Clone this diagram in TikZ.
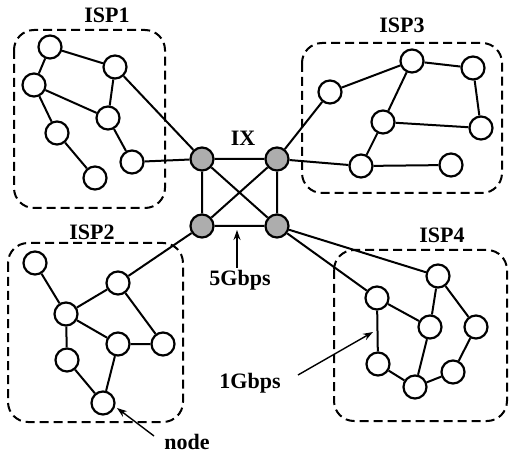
\documentclass[tikz,border=0pt]{standalone}
\usepackage{fontspec}
\setmainfont{Liberation Serif}
\usetikzlibrary{arrows.meta}
\tikzset{
  host/.style={circle, draw, line width=2.2pt, minimum size=23pt, inner sep=0pt, fill=white},
  ixhost/.style={host, fill=black!32},
  link/.style={line width=2pt},
  ispbox/.style={draw, line width=2pt, dash pattern=on 9pt off 5pt, rounded corners=20pt},
  lbl/.style={font=\fontsize{22}{24}\selectfont\bfseries, inner sep=0pt},
  pointer/.style={line width=1.4pt, -{Stealth[length=10pt,width=7pt]}}
}
\begin{document}
\begin{tikzpicture}[x=1pt, y=-1pt]
\useasboundingbox (0,0) rectangle (509,457);

% ISP domains
\draw[ispbox] (14,30) rectangle (165,208);
\draw[ispbox] (302,43) rectangle (502,193);
\draw[ispbox] (8,243) rectangle (183,422);
\draw[ispbox] (334,250) rectangle (507,421);

% labels
\node[lbl] (l1) at (107,15) {ISP1};
\node[lbl] (l3) at (402,25) {ISP3};
\node[lbl] (l2) at (92,232) {ISP2};
\node[lbl] (l4) at (442,235) {ISP4};
\node[lbl] (lix) at (243,138) {IX};
\node[lbl] (l5g) at (240,280) {5Gbps};
\node[lbl] (l1g) at (250,383) {1Gbps};
\node[lbl] (lnode) at (187,442) {node};

% exchange point
\node[ixhost] (xa) at (202,159) {};
\node[ixhost] (xb) at (277,159) {};
\node[ixhost] (xc) at (202,226) {};
\node[ixhost] (xd) at (277,226) {};

% ISP1
\node[host] (a1) at (50,47) {};
\node[host] (a2) at (115,67) {};
\node[host] (a3) at (34,85) {};
\node[host] (a4) at (108,118) {};
\node[host] (a5) at (57,133) {};
\node[host] (a6) at (132,162) {};
\node[host] (a7) at (95,178) {};

% ISP3
\node[host] (c1) at (330,92) {};
\node[host] (c2) at (412,61) {};
\node[host] (c3) at (473,68) {};
\node[host] (c4) at (383,122) {};
\node[host] (c5) at (481,128) {};
\node[host] (c6) at (361,166) {};
\node[host] (c7) at (451,165) {};

% ISP2
\node[host] (b1) at (35,263) {};
\node[host] (b2) at (118,283) {};
\node[host] (b3) at (66,314) {};
\node[host] (b4) at (118,344) {};
\node[host] (b5) at (163,344) {};
\node[host] (b6) at (67,360) {};
\node[host] (b7) at (103,403) {};

% ISP4
\node[host] (d1) at (377,298) {};
\node[host] (d2) at (438,276) {};
\node[host] (d3) at (430,327) {};
\node[host] (d4) at (476,327) {};
\node[host] (d5) at (378,364) {};
\node[host] (d6) at (415,387) {};
\node[host] (d7) at (453,372) {};

% links
\draw[link] (xa) -- (xb) (xa) -- (xc) (xb) -- (xd) (xc) -- (xd)
            (xa) -- (xd) (xb) -- (xc);
\draw[link] (a1) -- (a2) (a1) -- (a3) (a3) -- (a4) (a2) -- (a4)
            (a3) -- (a5) (a5) -- (a7) (a4) -- (a6)
            (a2) -- (xa) (a6) -- (xa);
\draw[link] (xb) -- (c1) (c1) -- (c2) (c2) -- (c3) (c3) -- (c5)
            (c2) -- (c4) (c4) -- (c5) (c4) -- (c6) (c6) -- (c7)
            (xb) -- (c6);
\draw[link] (xc) -- (b2) (b1) -- (b3) (b2) -- (b3) (b2) -- (b5)
            (b3) -- (b4) (b4) -- (b5) (b3) -- (b6) (b6) -- (b7)
            (b4) -- (b7);
\draw[link] (xd) -- (d2) (xd) -- (d1) (d1) -- (d3) (d2) -- (d3)
            (d2) -- (d4) (d1) -- (d5) (d5) -- (d6) (d3) -- (d6)
            (d6) -- (d7) (d7) -- (d4);

% annotation pointers
\coordinate (p5s) at (237,268);
\coordinate (p5e) at (237,230);
\coordinate (p1s) at (298,375);
\coordinate (p1e) at (373,332);
\coordinate (pns) at (154,436);
\coordinate (pne) at (117,408);
\draw[pointer] (p5s) -- (p5e);
\draw[pointer] (p1s) -- (p1e);
\draw[pointer] (pns) -- (pne);
\end{tikzpicture}
\end{document}
